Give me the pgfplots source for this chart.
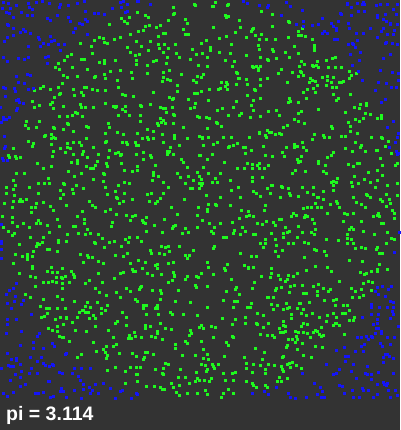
\documentclass[border=0pt]{standalone}
\usepackage{fontspec}
\setmainfont{Liberation Sans}
\usepackage{pgfplots}
\pgfplotsset{compat=1.18}
\definecolor{bg}{RGB}{51,51,51}
\definecolor{ptgreen}{RGB}{30,250,30}
\definecolor{ptblue}{RGB}{20,20,250}
\begin{document}
\begin{tikzpicture}[x=1pt,y=1pt]
\useasboundingbox (0,-30) rectangle (400,400);
\fill[bg] (0,-30) rectangle (400,400);
\begin{axis}[at={(0,0)}, anchor=south west, width=400pt, height=400pt, scale only axis,
  xmin=0, xmax=400, ymin=0, ymax=400, y dir=reverse, hide axis, clip=false]
% inside the circle
\addplot[ptgreen, only marks, mark=square*, mark size=0.85pt, mark options={solid, draw=ptgreen, fill=ptgreen, line width=0.3pt}] coordinates {
(99,37) (94,40) (80,43) (91,46) (92,53) (71,54) (67,56) (64,60) (81,59) (84,59) (99,62) (58,63) (55,67) (72,67) (59,69) (87,69) (63,75) (67,77) (77,76) (94,77) (95,76) (62,83) (73,89) (81,92) (84,87) (86,87) (92,89) (97,90) (43,86) (40,88) (50,89) (34,90) (58,87) (60,93) (59,94) (54,97) (74,95) (83,95) (32,101) (52,102) (50,104) (39,105) (34,107) (63,106) (53,108) (80,104) (85,107) (81,107) (93,107) (75,112) (77,113) (82,116) (67,116) (72,115) (59,116) (39,121) (26,121) (25,125) (28,128) (36,127) (53,127) (54,128) (67,123) (68,124) (63,129) (73,131) (86,126) (88,127) (51,134) (45,135) (44,136) (53,137) (55,138) (51,138) (86,138) (28,141) (33,143) (32,146) (67,143) (73,142) (79,142) (51,144) (60,148) (67,147) (70,148) (81,145) (93,147) (13,148) (53,151) (65,152) (83,151) (73,154) (87,157) (98,154) (8,155) (9,157) (15,156) (16,158) (20,157) (52,156) (82,154) (77,160) (77,163) (71,162) (97,161) (95,165) (86,166) (90,168) (93,168) (51,166) (37,163) (43,168) (68,171) (81,173) (74,176) (16,173) (24,173) (48,178) (93,179) (13,180) (15,185) (38,183) (44,183) (49,183) (63,183) (64,184) (76,185) (72,189) (83,188) (6,187) (13,189) (29,187) (60,190) (73,193) (63,194) (6,193) (14,195) (38,193) (20,199) (26,199) (60,198)
(173,7) (194,4) (195,5) (137,12) (174,13) (173,14) (145,15) (148,17) (129,17) (121,18) (124,21) (127,23) (168,20) (185,19) (187,23) (109,24) (145,26) (149,25) (160,25) (156,27) (143,30) (183,29) (138,31) (165,33) (185,34) (188,34) (130,34) (120,37) (114,39) (103,38) (104,42) (107,43) (136,41) (150,41) (158,36) (163,33) (158,44) (164,44) (175,44) (141,46) (168,48) (159,48) (163,52) (192,49) (176,53) (196,54) (148,50) (127,47) (130,52) (139,54) (135,55) (190,59) (179,57) (167,57) (104,60) (115,60) (104,63) (136,60) (136,64) (166,63) (156,60) (153,61) (147,65) (198,65) (110,71) (120,70) (131,72) (147,73) (163,72) (169,70) (181,74) (104,74) (105,78) (163,77) (167,79) (170,80) (162,81) (197,76) (193,80) (132,78) (117,80) (196,82) (177,85) (118,87) (105,90) (177,91) (153,92) (194,93) (122,94) (125,95) (133,96) (169,97) (172,99) (173,98) (188,99) (197,93) (105,103) (113,106) (115,107) (116,106) (125,106) (122,109) (125,111) (140,105) (141,106) (150,104) (160,107) (163,108) (165,108) (172,107) (190,108) (194,107) (195,103) (166,112) (173,114) (174,115) (118,115) (129,115) (140,115) (197,116) (199,117) (160,118) (163,120) (140,121) (157,123) (161,122) (165,123) (173,123) (108,123) (109,127) (158,125) (183,127) (147,129) (153,131) (117,132) (105,133) (123,134) (137,133) (162,134) (174,135) (174,138) (187,138) (142,138) (147,137) (148,139) (153,138) (105,142) (106,141) (122,142) (126,142) (127,144) (135,142) (136,145) (138,145) (163,142) (170,147) (179,145) (199,136) (109,150) (115,153) (118,152) (120,155) (121,154) (136,154) (143,152) (150,155) (151,157) (167,151) (168,152) (169,151) (167,154) (173,154) (108,157) (181,159) (183,162) (199,155) (106,163) (107,166) (121,163) (137,166) (143,159) (155,165) (187,167) (124,170) (132,171) (137,170) (153,172) (153,175) (103,173) (104,174) (158,176) (177,173) (188,176) (197,172) (199,176) (103,181) (124,182) (129,183) (152,180) (163,182) (180,177) (193,180) (118,185) (105,187) (168,187) (185,183) (190,188) (192,188) (199,183) (199,188) (115,191) (124,193) (147,194) (151,193) (163,193) (107,194) (116,197) (117,198) (132,199) (160,198) (184,199)
(215,2) (212,6) (213,6) (227,5) (228,4) (225,15) (226,17) (228,16) (261,11) (272,14) (239,20) (288,21) (289,22) (213,27) (240,27) (252,29) (253,28) (251,31) (272,26) (235,32) (226,36) (255,35) (261,34) (298,31) (298,35) (288,37) (206,40) (219,38) (246,37) (259,39) (266,39) (275,39) (201,43) (231,44) (258,45) (294,46) (210,47) (210,50) (202,53) (219,52) (230,53) (259,49) (272,49) (273,51) (285,52) (298,53) (246,55) (207,57) (225,60) (234,61) (260,57) (267,59) (268,60) (276,58) (289,57) (252,66) (253,67) (256,66) (258,68) (258,70) (260,66) (232,66) (207,66) (299,66) (281,69) (300,71) (236,72) (237,73) (292,72) (278,73) (203,74) (201,77) (238,78) (239,78) (246,79) (260,79) (267,78) (287,82) (298,76) (221,82) (226,82) (227,84) (225,86) (236,84) (247,84) (209,89) (218,89) (220,88) (254,89) (255,90) (260,85) (201,91) (227,89) (247,95) (289,98) (290,101) (288,102) (260,98) (236,101) (253,100) (208,100) (251,105) (298,102) (217,110) (222,108) (233,107) (239,115) (241,113) (253,110) (268,111) (276,110) (250,117) (260,116) (206,117) (209,118) (228,115) (279,115) (298,113) (294,119) (298,121) (216,122) (217,123) (287,125) (221,126) (207,128) (283,127) (267,130) (269,132) (271,132) (259,132) (259,133) (275,134) (279,133) (281,134) (266,137) (265,135) (202,137) (202,138) (208,137) (223,137) (231,137) (249,137) (237,143) (233,145) (228,147) (229,146) (203,145) (213,144) (217,142) (243,147) (245,147) (263,146) (286,147) (294,144) (294,147) (297,146) (251,150) (282,152) (200,155) (212,154) (245,153) (265,155) (272,156) (284,156) (207,159) (224,162) (247,163) (252,164) (257,165) (259,163) (268,165) (298,162) (297,159) (203,167) (237,168) (244,168) (252,168) (259,168) (264,168) (295,170) (292,173) (208,173) (220,173) (252,177) (262,177) (201,179) (202,183) (201,185) (215,178) (212,182) (217,182) (230,180) (252,181) (271,185) (272,185) (282,187) (281,186) (288,188) (238,187) (231,190) (206,195) (253,191) (256,193) (267,188) (270,193) (289,193) (290,195) (280,197) (298,196) (220,197) (240,197) (260,196)
(302,28) (301,35) (305,36) (312,39) (314,45) (314,48) (314,50) (301,61) (304,64) (317,61) (326,60) (332,58) (335,57) (313,66) (316,65) (312,65) (318,67) (328,67) (335,67) (341,67) (349,71) (351,75) (356,73) (301,72) (303,75) (310,78) (312,80) (309,82) (315,81) (322,77) (327,76) (327,80) (333,77) (341,82) (339,82) (343,81) (349,78) (331,82) (317,85) (326,85) (332,87) (336,87) (303,92) (307,89) (315,92) (313,88) (333,94) (350,94) (306,98) (338,98) (336,100) (301,111) (318,109) (345,112) (354,107) (359,108) (360,104) (366,103) (366,105) (365,113) (370,114) (381,115) (377,118) (381,118) (355,119) (359,121) (363,118) (304,123) (348,122) (331,126) (332,128) (350,126) (350,131) (357,133) (314,134) (323,135) (324,137) (329,137) (312,139) (341,136) (345,136) (371,137) (381,137) (382,138) (355,142) (361,145) (360,147) (302,142) (303,147) (306,150) (345,148) (365,151) (376,150) (377,150) (385,146) (388,141) (352,151) (333,152) (331,155) (391,153) (327,157) (301,156) (300,161) (318,161) (318,163) (380,158) (397,163) (395,165) (325,165) (348,164) (357,163) (359,163) (353,166) (382,165) (305,171) (323,171) (326,173) (368,172) (354,176) (377,170) (382,175) (337,178) (364,179) (377,180) (331,182) (333,181) (336,182) (351,182) (370,182) (387,185) (397,183) (333,185) (352,186) (358,183) (302,187) (313,187) (307,192) (313,194) (323,191) (333,190) (375,187) (366,194) (367,195) (386,194) (397,195) (317,197) (318,197) (323,199) (353,197) (370,197) (380,199) (389,199)
(4,203) (13,201) (19,201) (22,201) (36,203) (43,202) (31,207) (35,207) (50,206) (66,205) (89,201) (92,205) (95,207) (12,207) (31,212) (53,210) (82,211) (2,216) (12,217) (77,216) (38,220) (36,223) (40,223) (12,222) (23,223) (57,219) (84,219) (84,223) (3,227) (17,226) (29,227) (47,225) (59,226) (73,226) (75,226) (87,229) (90,233) (8,231) (14,233) (12,235) (30,237) (43,237) (49,232) (67,234) (78,233) (85,234) (98,234) (37,243) (39,244) (42,242) (58,242) (58,240) (66,241) (94,242) (95,243) (19,244) (36,246) (47,249) (49,249) (15,254) (22,256) (27,254) (27,256) (32,256) (33,251) (57,251) (80,254) (87,255) (88,257) (92,257) (27,259) (13,263) (83,262) (98,261) (32,266) (32,268) (51,267) (62,268) (71,271) (47,271) (52,272) (57,272) (19,273) (74,276) (74,277) (73,274) (61,277) (62,278) (65,276) (35,277) (30,276) (56,277) (43,282) (48,282) (52,281) (56,282) (62,283) (69,282) (89,280) (98,273) (85,283) (35,286) (62,288) (95,288) (99,292) (25,294) (30,297) (57,296) (43,299) (62,299) (74,301) (87,302) (97,302) (40,306) (46,308) (49,308) (57,308) (65,308) (83,310) (85,306) (79,312) (82,310) (90,307) (88,312) (47,313) (85,312) (41,317) (44,316) (55,319) (60,317) (66,317) (66,318) (77,317) (95,318) (89,318) (93,315) (72,322) (63,324) (57,326) (75,330) (86,331) (95,326) (48,328) (52,330) (57,331) (59,336) (63,337) (62,337) (69,341) (93,342) (81,354) (77,357) (96,351)
(119,203) (123,201) (149,201) (155,203) (157,201) (171,207) (198,207) (110,209) (105,211) (116,214) (126,215) (132,216) (135,215) (146,217) (177,214) (197,215) (130,220) (142,220) (143,222) (145,223) (164,219) (112,222) (111,226) (154,225) (175,225) (173,226) (172,228) (185,228) (197,227) (146,231) (162,232) (182,233) (188,232) (102,238) (129,237) (137,237) (141,241) (109,242) (114,241) (125,239) (128,242) (121,246) (104,247) (161,246) (165,247) (168,246) (179,246) (151,253) (150,250) (159,253) (164,254) (169,251) (185,255) (187,258) (189,255) (193,250) (127,253) (115,255) (123,256) (138,260) (145,262) (130,263) (103,263) (157,264) (155,265) (168,263) (173,262) (157,268) (132,269) (135,271) (133,271) (142,268) (147,273) (123,272) (120,273) (152,275) (161,274) (173,272) (174,275) (174,276) (168,282) (172,280) (185,279) (187,276) (196,276) (198,277) (195,285) (196,287) (102,282) (114,278) (140,287) (139,289) (141,286) (152,290) (160,290) (161,293) (126,288) (130,291) (116,292) (106,295) (120,297) (178,290) (135,299) (137,301) (160,299) (175,301) (190,302) (143,305) (146,305) (157,305) (156,307) (143,308) (155,308) (157,308) (157,306) (107,305) (101,308) (105,310) (101,313) (146,314) (158,314) (170,312) (172,314) (183,314) (197,315) (122,312) (126,317) (117,321) (115,323) (126,325) (160,323) (145,325) (150,326) (145,328) (165,328) (171,329) (157,331) (157,333) (134,332) (108,330) (190,330) (199,327) (189,335) (191,333) (129,335) (135,336) (113,337) (128,338) (131,338) (141,337) (151,336) (155,337) (162,339) (185,341) (187,343) (175,344) (175,348) (106,346) (113,346) (116,344) (103,349) (105,352) (107,355) (119,353) (132,353) (136,356) (145,352) (147,352) (153,354) (144,357) (143,359) (106,358) (182,355) (195,355) (165,363) (168,364) (115,367) (130,367) (136,367) (140,367) (163,368) (180,369) (196,372) (125,371) (107,370) (155,369) (162,373) (163,374) (136,374) (137,374) (178,377) (185,377) (197,378) (199,380) (195,381) (137,381) (125,383) (171,383) (179,385) (189,383) (146,386) (154,386) (160,387) (162,389) (164,389) (173,387) (176,392) (187,393) (197,393) (179,395)
(208,204) (215,204) (216,205) (230,205) (265,205) (207,209) (207,211) (241,210) (248,211) (264,210) (293,213) (291,216) (296,215) (246,216) (249,215) (253,216) (239,218) (232,222) (257,223) (262,224) (266,221) (273,222) (279,219) (281,219) (275,225) (202,220) (209,223) (220,223) (214,227) (242,227) (298,226) (287,232) (289,231) (211,231) (213,233) (234,230) (240,234) (245,231) (233,233) (271,233) (285,227) (283,233) (253,234) (255,234) (223,237) (226,237) (265,239) (275,239) (283,237) (288,243) (293,243) (297,237) (260,243) (265,243) (276,245) (263,247) (214,246) (213,248) (275,251) (282,250) (240,253) (251,256) (256,256) (278,256) (207,262) (227,264) (244,265) (248,267) (248,268) (253,267) (271,268) (208,267) (201,273) (213,274) (224,268) (225,270) (261,276) (271,273) (278,275) (288,275) (293,276) (297,273) (231,279) (254,282) (270,277) (280,279) (285,281) (287,279) (207,286) (236,287) (235,289) (252,288) (276,288) (275,290) (281,287) (290,286) (294,285) (226,291) (239,294) (289,292) (268,297) (273,297) (267,297) (223,300) (234,301) (237,301) (251,303) (286,303) (299,303) (271,304) (250,307) (277,305) (207,307) (233,307) (247,307) (287,308) (289,307) (257,313) (283,309) (297,308) (273,309) (263,315) (291,314) (291,318) (222,318) (235,319) (245,317) (245,323) (256,323) (257,324) (268,323) (283,321) (283,325) (201,325) (211,326) (215,327) (232,324) (203,328) (263,327) (279,328) (285,326) (285,331) (295,331) (298,332) (260,334) (267,335) (272,335) (274,337) (280,332) (283,332) (232,336) (233,337) (213,337) (296,336) (295,342) (297,339) (288,339) (292,339) (226,342) (228,345) (201,341) (287,345) (286,347) (255,348) (264,352) (297,349) (203,349) (207,354) (224,356) (244,357) (283,356) (282,357) (203,358) (208,359) (262,359) (292,362) (289,363) (201,364) (205,365) (212,364) (213,366) (218,364) (246,363) (253,364) (260,365) (268,364) (274,365) (281,366) (287,364) (296,365) (207,369) (206,371) (214,368) (246,368) (265,369) (265,373) (283,371) (282,369) (290,367) (223,373) (232,373) (235,372) (252,372) (204,380) (209,381) (211,378) (225,380) (233,380) (246,381) (277,381) (281,381) (279,377) (287,378) (252,383) (253,385) (256,387) (265,385) (267,387) (228,389) (233,393) (205,390) (207,394) (223,393) (221,397)
(303,208) (307,207) (311,207) (317,207) (315,203) (321,207) (336,201) (337,203) (330,204) (339,207) (356,202) (361,204) (365,207) (382,201) (386,206) (390,203) (392,210) (305,215) (304,217) (307,216) (312,219) (327,213) (344,213) (347,214) (353,213) (378,213) (377,215) (379,216) (373,216) (394,213) (394,218) (314,223) (343,221) (361,221) (381,223) (383,223) (351,227) (353,229) (349,229) (363,231) (302,232) (311,232) (314,234) (315,229) (347,234) (374,234) (387,232) (304,242) (308,243) (326,239) (338,240) (347,238) (351,239) (347,243) (353,243) (386,243) (391,238) (394,239) (314,249) (316,250) (324,251) (326,255) (355,248) (361,247) (365,248) (377,247) (376,249) (382,253) (379,253) (304,257) (349,260) (362,261) (379,264) (315,266) (306,270) (331,271) (327,267) (360,272) (366,273) (371,271) (377,271) (377,269) (387,269) (364,274) (339,281) (363,283) (368,281) (372,282) (302,285) (318,284) (313,286) (323,288) (328,291) (330,289) (317,291) (351,288) (355,291) (361,289) (371,290) (303,293) (306,293) (317,295) (324,300) (333,300) (336,299) (359,297) (352,297) (363,295) (300,303) (309,302) (335,305) (343,305) (347,305) (303,309) (312,313) (301,313) (306,315) (319,317) (327,315) (333,313) (342,313) (345,313) (349,310) (336,317) (349,320) (353,320) (354,317) (326,321) (336,323) (333,325) (339,325) (303,323) (301,326) (307,324) (335,323) (321,327) (315,330) (303,332) (307,333) (313,332) (317,331) (319,334) (323,335) (321,336) (310,337) (344,334) (302,343) (315,346) (322,347) (303,355) (311,357) (301,368)
};
% outside the circle
\addplot[ptblue, only marks, mark=square*, mark size=0.85pt, mark options={solid, draw=ptblue, fill=ptblue, line width=0.3pt}] coordinates {
(3,2) (8,3) (16,5) (28,3) (36,2) (42,1) (49,3) (60,4) (68,5) (77,3) (84,1) (2,8) (10,8) (29,7) (32,9) (59,7) (6,12) (9,13) (21,12) (27,15) (32,15) (13,17) (47,18) (50,20) (57,15) (68,17) (70,21) (79,23) (85,19) (87,21) (94,13) (98,13) (85,11) (7,24) (8,25) (13,28) (20,32) (23,29) (25,31) (30,33) (7,37) (13,35) (38,37) (39,39) (50,36) (51,41) (54,40) (43,43) (48,44) (58,44) (64,44) (73,32) (75,28) (82,24) (87,34) (4,41) (28,46) (40,46) (60,50) (3,57) (7,61) (18,58) (24,59) (28,57) (45,57) (48,56) (47,63) (16,76) (27,74) (30,75) (18,82) (24,83) (3,87) (5,88) (14,88) (15,91) (28,89) (33,88) (5,96) (16,100) (18,99) (19,102) (23,103) (0,107) (17,108) (16,110) (3,117) (9,117) (3,119) (6,119) (1,122) (4,136) (5,146) (4,148) (2,158) (3,160) (7,160)
(120,2) (123,1) (137,1) (138,1) (127,4) (121,7) (112,8) (150,4) (125,12) (127,11) (104,14)
(243,1) (247,3) (259,5) (267,7) (268,5) (286,2) (290,6) (281,15) (296,24)
(347,3) (347,4) (351,7) (357,3) (363,2) (364,4) (362,4) (376,5) (380,4) (387,4) (397,4) (302,10) (340,13) (341,14) (351,15) (358,11) (364,11) (377,15) (377,17) (385,14) (393,9) (396,14) (303,21) (322,18) (338,21) (348,23) (383,19) (386,21) (390,23) (390,24) (397,24) (303,26) (312,25) (318,24) (331,23) (333,26) (336,28) (336,30) (349,28) (370,28) (381,31) (383,28) (394,30) (322,33) (324,31) (327,33) (356,33) (363,33) (387,34) (393,34) (377,37) (334,39) (337,39) (357,40) (352,43) (353,44) (348,44) (386,42) (385,43) (392,43) (397,44) (355,47) (360,52) (350,54) (390,54) (359,60) (383,58) (352,65) (380,70) (358,71) (392,72) (398,73) (362,80) (378,82) (398,80) (386,83) (391,87) (396,87) (375,90) (385,99) (381,102) (393,121) (387,127) (398,133) (395,142) (397,137) (396,151) (397,154) (398,153) (389,147)
(1,224) (1,241) (1,243) (1,249) (1,258) (16,283) (13,288) (9,290) (6,294) (15,296) (23,300) (7,303) (21,304) (14,301) (11,308) (31,314) (7,319) (16,319) (7,324) (6,333) (21,331) (39,333) (37,336) (33,342) (20,345) (52,343) (54,346) (33,348) (43,348) (65,354) (66,353) (7,353) (30,357) (16,358) (11,359) (16,360) (41,357) (37,361) (43,363) (45,365) (49,366) (53,365) (52,364) (20,364) (10,366) (8,365) (13,366) (1,368) (31,368) (59,372) (62,373) (72,373) (74,368) (81,368) (90,368) (37,373) (21,371) (15,374) (29,373) (78,376) (20,377) (10,380) (48,381) (49,381) (83,384) (80,380) (95,384) (25,384) (20,386) (89,387) (61,388) (60,391) (63,391) (74,390) (83,389) (92,390) (90,393) (35,393) (38,393) (43,392) (13,392) (3,393) (98,393) (50,397) (53,396) (81,398) (7,396) (66,397)
(103,383) (110,388) (120,391) (122,390) (136,393) (137,394) (115,398) (131,398)
(252,393) (264,391) (268,394) (276,387) (288,393) (290,397) (295,398)
(399,232) (394,252) (382,286) (391,286) (388,289) (377,287) (375,291) (385,296) (378,294) (390,301) (393,302) (371,304) (371,307) (387,307) (393,307) (392,311) (379,307) (371,314) (378,314) (393,314) (377,319) (390,318) (362,317) (377,323) (373,324) (376,328) (378,328) (381,331) (381,333) (375,333) (398,326) (366,336) (371,336) (372,337) (357,337) (361,337) (387,337) (394,337) (380,343) (382,346) (368,339) (364,344) (361,346) (390,344) (344,347) (385,354) (387,354) (389,356) (383,357) (363,351) (355,351) (336,350) (348,356) (345,356) (345,361) (383,362) (393,358) (367,366) (353,364) (326,364) (339,369) (351,371) (378,372) (302,373) (333,374) (336,373) (365,373) (367,374) (371,374) (393,373) (356,378) (371,379) (383,382) (384,384) (387,383) (386,385) (314,383) (339,385) (342,386) (377,384) (320,387) (362,388) (368,390) (363,390) (352,390) (388,390) (395,390) (344,393) (322,391) (317,394) (321,397) (377,394) (397,395) (306,397) (324,397) (353,397) (373,397) (359,397) (390,397)
};
\end{axis}
\node[anchor=base west, text=white, inner sep=0pt, font=\bfseries\fontsize{19.5}{20}\selectfont] at (6,-20) {pi = 3.114};
\end{tikzpicture}
\end{document}
